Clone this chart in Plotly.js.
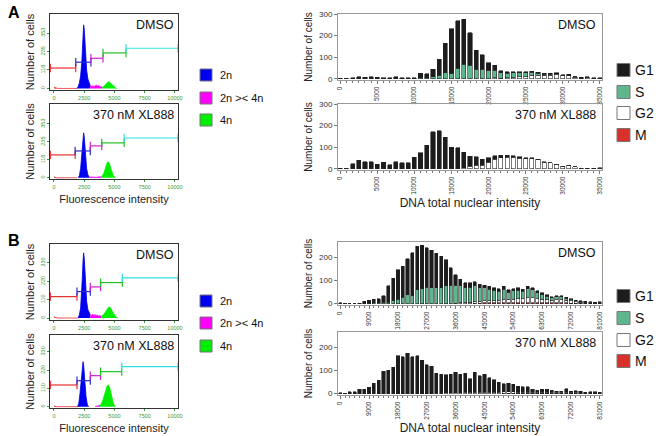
<!DOCTYPE html>
<html><head><meta charset="utf-8">
<script src="https://cdn.plot.ly/plotly-3.0.1.min.js"></script>
<style>html,body{margin:0;padding:0;background:#fff}#chart{width:662px;height:436px}</style>
</head><body><div id="chart"></div>
<script>
// ---------- Left: flow cytometry histograms ----------
const histTicksX = [0, 2500, 5000, 7500, 10000];
const histTicksYA = [0, 118, 235, 353];
const histTicksYB = [0, 110, 220, 330];

// Panel A DMSO
const aD_redX = [0, 100, 200, 300, 1900];
const aD_redY = [8, 5, 2, 0, 0];
const aD_blueX = [1900, 2000, 2100, 2200, 2300, 2350, 2400, 2450, 2500, 2550, 2600, 2700, 2800, 2900, 3000];
const aD_blueY = [0, 12, 35, 80, 170, 270, 355, 405, 380, 305, 215, 115, 60, 32, 18];
const aD_magX = [3000, 3100, 3200, 3300, 3400, 3500, 3600, 3700, 3800, 3900, 4000];
const aD_magY = [18, 14, 16, 12, 15, 22, 14, 18, 12, 10, 8];
const aD_grnX = [4000, 4100, 4200, 4300, 4400, 4500, 4600, 4700, 4800, 4900, 5000, 5100, 5200];
const aD_grnY = [8, 12, 18, 28, 36, 42, 40, 33, 24, 14, 7, 3, 0];
// Panel A XL888
const aX_redX = [0, 100, 200, 1900];
const aX_redY = [6, 3, 0, 0];
const aX_blueX = [2000, 2100, 2200, 2300, 2400, 2450, 2500, 2600, 2700, 2800, 2900];
const aX_blueY = [0, 15, 60, 160, 260, 295, 270, 150, 60, 20, 5];
const aX_magX = [2900, 3100, 3300, 3500, 3700, 3900];
const aX_magY = [5, 3, 4, 3, 6, 5];
const aX_grnX = [3900, 4000, 4100, 4200, 4300, 4400, 4500, 4600, 4700, 4800, 4900, 5000, 5100];
const aX_grnY = [5, 12, 25, 50, 80, 100, 105, 90, 60, 35, 15, 5, 0];
// Panel B DMSO
const bD_redX = [0, 100, 200, 300, 2000];
const bD_redY = [6, 4, 1, 0, 0];
const bD_blueX = [2000, 2100, 2200, 2300, 2350, 2400, 2450, 2500, 2550, 2600, 2700, 2800, 2900, 3000];
const bD_blueY = [0, 20, 60, 150, 250, 340, 390, 360, 280, 200, 100, 50, 30, 20];
const bD_magX = [3000, 3100, 3200, 3300, 3400, 3500, 3600, 3700, 3800, 3900];
const bD_magY = [20, 16, 22, 15, 20, 14, 18, 12, 14, 10];
const bD_grnX = [3900, 4000, 4100, 4200, 4300, 4400, 4500, 4600, 4700, 4800, 4900, 5000, 5100, 5200, 5300];
const bD_grnY = [10, 14, 20, 30, 42, 55, 63, 66, 58, 42, 28, 15, 7, 3, 0];
// Panel B XL888
const bX_redX = [0, 100, 200, 2000];
const bX_redY = [5, 2, 0, 0];
const bX_blueX = [1950, 2050, 2150, 2250, 2350, 2400, 2450, 2550, 2650, 2750, 2850];
const bX_blueY = [0, 20, 80, 180, 255, 270, 250, 150, 60, 15, 0];
const bX_magX = [3400, 3500, 3600, 3700, 3800];
const bX_magY = [0, 3, 5, 6, 8];
const bX_grnX = [3800, 3900, 4000, 4100, 4200, 4300, 4400, 4500, 4600, 4700, 4800, 4900, 5000, 5100];
const bX_grnY = [8, 15, 30, 55, 85, 110, 125, 130, 115, 85, 50, 22, 6, 0];

// gate markers: [x start, x end, level] red, blue, magenta, green, cyan
const gateStartA_D = [-300, 1800, 3050, 4050, 5950];
const gateEndA_D   = [1800, 3050, 4050, 5950, 10250];
const gateLevA_D   = [130, 167, 192, 226, 256];
const gateStartA_X = [-300, 1750, 3000, 3950, 5800];
const gateEndA_X   = [1750, 3000, 3950, 5800, 10250];
const gateLevA_X   = [150, 176, 209, 229, 261];
const gateStartB_D = [-300, 1900, 3000, 3850, 5650];
const gateEndB_D   = [1900, 3000, 3850, 5650, 10250];
const gateLevB_D   = [128, 158, 186, 212, 240];
const gateStartB_X = [-300, 1900, 3000, 3850, 5600];
const gateEndB_X   = [1900, 3000, 3850, 5600, 10250];
const gateLevB_X   = [130, 156, 186, 210, 240];

// ---------- Right: stacked bar charts ----------
const binsA = [0,833,1667,2500,3333,4167,5000,5833,6667,7500,8333,9167,10000,10833,11667,12500,13333,14167,15000,15833,16667,17500,18333,19167,20000,20833,21667,22500,23333,24167,25000,25833,26667,27500,28333,29167,30000,30833,31667,32500,33333,34167,35000];
const ticksA = [0,5000,10000,15000,20000,25000,30000,35000];
const aDMSO_G1 = [2,2,5,8,7,8,6,5,5,8,5,5,5,20,17,37,75,137,207,220,210,150,88,65,35,22,10,8,6,5,5,5,4,4,4,4,3,3,2,3,4,2,3];
const aDMSO_S  = [0,0,0,0,0,0,0,0,0,0,0,0,0,5,5,8,15,28,25,48,66,62,44,45,40,35,25,20,20,18,18,15,10,6,5,4,2,2,1,0,0,0,0];
const aDMSO_G2 = [0,0,0,0,0,0,0,0,0,0,0,0,0,0,0,0,0,0,0,0,0,0,0,0,0,5,3,5,7,9,10,15,16,15,16,20,13,15,7,3,4,2,2];
const aDMSO_M  = [1,0,0,0,0,0,0,0,0,0,0,0,0,0,0,0,0,0,0,0,0,0,0,0,0,0,0,0,0,0,0,0,0,0,0,0,0,0,0,0,0,0,0];
const aXL_G1 = [3,1,22,40,32,32,20,30,18,32,27,27,52,75,108,172,175,145,100,97,72,45,40,28,20,15,12,10,8,6,4,4,3,2,1,0,0,0,0,2,2,2,3];
const aXL_G2 = [0,0,0,0,0,0,0,0,0,0,0,0,0,0,0,0,0,0,0,0,5,12,15,15,30,45,50,52,52,49,46,46,42,30,27,20,12,15,8,1,1,1,1];

const binsB = [0,1500,3000,4500,6000,7500,9000,10500,12000,13500,15000,16500,18000,19500,21000,22500,24000,25500,27000,28500,30000,31500,33000,34500,36000,37500,39000,40500,42000,43500,45000,46500,48000,49500,51000,52500,54000,55500,57000,58500,60000,61500,63000,64500,66000,67500,69000,70500,72000,73500,75000,76500,78000,79500,81000];
const ticksB = [0,9000,18000,27000,36000,45000,54000,63000,72000,81000];
const bDMSO_G1 = [1,0,0,0,2,10,13,15,18,30,70,98,128,135,157,187,190,188,170,162,150,137,112,75,45,28,20,18,17,15,13,12,12,12,12,10,10,10,10,10,10,8,8,6,5,5,5,5,4,3,3,3,3,2,3];
const bDMSO_S  = [0,0,0,0,0,0,2,3,4,5,7,12,20,27,38,35,60,65,72,70,70,68,78,80,78,72,65,65,68,60,55,50,45,38,45,32,35,36,30,40,35,25,20,14,10,13,12,8,6,4,3,2,2,1,2];
const bDMSO_G2 = [0,0,0,0,0,0,0,0,0,0,0,0,0,0,0,0,0,0,0,0,0,0,0,0,2,5,5,7,8,8,10,10,10,12,15,15,17,19,20,22,22,19,17,15,12,14,15,12,10,6,5,4,2,2,2];
const bDMSO_M  = [2,0,0,0,0,0,0,0,0,0,0,0,0,0,0,0,0,0,0,0,0,0,0,0,0,0,0,0,2,2,3,3,3,3,3,3,3,3,3,3,3,3,3,3,3,3,3,3,2,2,1,1,1,1,1];
const bXL_G1 = [1,0,8,8,20,18,28,45,58,98,102,115,165,160,175,160,165,145,125,120,86,83,80,82,89,81,83,60,87,72,79,64,54,44,34,37,32,25,23,23,12,9,14,12,10,5,5,17,5,7,7,3,5,5,2];
const bXL_G2 = [0,0,0,0,0,0,0,0,0,0,0,0,0,0,0,0,0,0,0,0,2,2,3,3,4,4,5,5,6,6,6,6,6,6,6,6,6,5,5,5,4,4,4,4,3,3,3,3,3,3,2,2,2,2,2];
const bXL_M  = [2,0,0,0,0,0,0,0,0,0,0,0,0,0,0,0,0,0,0,0,0,0,0,0,0,0,0,0,0,0,0,0,0,0,2,2,2,2,2,2,2,2,2,2,2,2,2,2,2,2,1,1,1,1,1];

// ---------- styling ----------
const W = 662, H = 436;
const px = x => x / W, py = y => 1 - y / H;
const FONT = 'Liberation Sans, Arial, sans-serif';
const C = {blue:'#0000f0', mag:'#ff00ff', grn:'#00ee00', red:'#e83030', cyan:'#30e0e0',
           G1:'#1c1c1c', S:'#5eb68e', G2:'#ffffff', M:'#d8302a'};
const gateColors = [C.red, '#2a2ad0', '#d020d0', '#22c022', C.cyan];

const traces = [];
function hist(ax, X, Y, col) {
  traces.push({type:'scatter', x:X, y:Y, xaxis:'x'+ax, yaxis:'y'+ax, mode:'lines',
    line:{color:col, width:0.8}, fill:'tozeroy', fillcolor:col, hoverinfo:'skip', showlegend:false});
}
function gates(ax, S, E, L) {
  for (let i = 0; i < S.length; i++) {
    traces.push({type:'scatter', x:[S[i], E[i]], y:[L[i], L[i]], xaxis:'x'+ax, yaxis:'y'+ax,
      mode:'lines+markers', line:{color:gateColors[i], width:1.2},
      marker:{symbol:'line-ns-open', size:6, line:{color:gateColors[i], width:1.2}},
      hoverinfo:'skip', showlegend:false, cliponaxis:true});
  }
}
hist(1, aD_redX, aD_redY, C.red); hist(1, aD_blueX, aD_blueY, C.blue); hist(1, aD_magX, aD_magY, C.mag); hist(1, aD_grnX, aD_grnY, C.grn);
gates(1, gateStartA_D, gateEndA_D, gateLevA_D);
hist(2, aX_redX, aX_redY, C.red); hist(2, aX_blueX, aX_blueY, C.blue); hist(2, aX_magX, aX_magY, C.mag); hist(2, aX_grnX, aX_grnY, C.grn);
gates(2, gateStartA_X, gateEndA_X, gateLevA_X);
hist(3, bD_redX, bD_redY, C.red); hist(3, bD_blueX, bD_blueY, C.blue); hist(3, bD_magX, bD_magY, C.mag); hist(3, bD_grnX, bD_grnY, C.grn);
gates(3, gateStartB_D, gateEndB_D, gateLevB_D);
hist(4, bX_redX, bX_redY, C.red); hist(4, bX_blueX, bX_blueY, C.blue); hist(4, bX_magX, bX_magY, C.mag); hist(4, bX_grnX, bX_grnY, C.grn);
gates(4, gateStartB_X, gateEndB_X, gateLevB_X);

function bar(ax, X, Y, col, w, name) {
  traces.push({type:'bar', x:X, y:Y, xaxis:'x'+ax, yaxis:'y'+ax, width:w, name:name,
    marker:{color:col, line:{color:'#222', width:0.6}}, showlegend:false, hoverinfo:'x+y+name'});
}
bar(5, binsA, aDMSO_M, C.M, 560, 'M'); bar(5, binsA, aDMSO_G2, C.G2, 560, 'G2');
bar(5, binsA, aDMSO_S, C.S, 560, 'S'); bar(5, binsA, aDMSO_G1, C.G1, 560, 'G1');
bar(6, binsA, aXL_G2, C.G2, 560, 'G2'); bar(6, binsA, aXL_G1, C.G1, 560, 'G1');
bar(7, binsB, bDMSO_M, C.M, 1000, 'M'); bar(7, binsB, bDMSO_G2, C.G2, 1000, 'G2');
bar(7, binsB, bDMSO_S, C.S, 1000, 'S'); bar(7, binsB, bDMSO_G1, C.G1, 1000, 'G1');
bar(8, binsB, bXL_M, C.M, 1000, 'M'); bar(8, binsB, bXL_G2, C.G2, 1000, 'G2');
bar(8, binsB, bXL_G1, C.G1, 1000, 'G1');

const layout = {
  width: W, height: H, margin:{l:0, r:0, t:0, b:0}, paper_bgcolor:'#fff', plot_bgcolor:'#fff',
  barmode:'stack', bargap:0, font:{family:FONT, color:'#222'}, showlegend:false,
  shapes:[], annotations:[]
};

const greenTick = '#3a9a3a';
function leftAxes(n, ydom, ticksY, yr, showXTitle) {
  layout['xaxis'+n] = {domain:[px(50), px(178)], anchor:'y'+n, range:[-330, 10250],
    tickvals:histTicksX, ticktext:histTicksX.map(String), tickfont:{size:5.5, color:greenTick},
    ticks:'outside', ticklen:2, tickcolor:greenTick, showline:true, mirror:true, linecolor:'#333', linewidth:1,
    showgrid:false, zeroline:false,
    title: showXTitle ? {text:'Fluorescence intensity', font:{size:11, color:'#222'}, standoff:6} : {text:''}};
  layout['yaxis'+n] = {domain:ydom, anchor:'x'+n, range:yr,
    tickvals:ticksY, ticktext:ticksY.map(String), tickangle:-90, tickfont:{size:5.5, color:greenTick},
    ticks:'outside', ticklen:2, tickcolor:greenTick, showline:true, mirror:true, linecolor:'#333', linewidth:1,
    showgrid:false, zeroline:false,
    title:{text:'Number of cells', font:{size:11, color:'#222'}, standoff:2}};
}
leftAxes(1, [py(90), py(14)], histTicksYA, [-10, 474], false);
leftAxes(2, [py(179), py(104)], histTicksYA, [-8, 484], true);
leftAxes(3, [py(320), py(244)], histTicksYB, [-12, 443], false);
leftAxes(4, [py(408), py(335)], histTicksYB, [-8, 430], true);

function rightAxes(n, ydom, bins, ticks, xr, yticks, yr, showXTitle) {
  layout['xaxis'+n] = {domain:[px(338), px(602)], anchor:'y'+n, range:xr,
    tickvals:ticks, ticktext:ticks.map(String), tickangle:-90, tickfont:{size:6.5, color:'#333'},
    ticks:'outside', ticklen:3, tickcolor:'#777',
    minor:{tickvals:bins, ticks:'outside', ticklen:2, tickcolor:'#777'},
    showline:true, mirror:true, linecolor:'#999', linewidth:1, showgrid:false, zeroline:false,
    title: showXTitle ? {text:'DNA total nuclear intensity', font:{size:12, color:'#222'}, standoff:4} : {text:''}};
  layout['yaxis'+n] = {domain:ydom, anchor:'x'+n, range:yr, tickvals:yticks, ticktext:yticks.map(String),
    tickfont:{size:8, color:'#333'}, ticks:'outside', ticklen:3, tickcolor:'#777',
    showline:true, mirror:true, linecolor:'#999', linewidth:1, showgrid:false, zeroline:false,
    title:{text:'Number of cells', font:{size:10, color:'#222'}, standoff:4}};
}
rightAxes(5, [py(80), py(14)], binsA, ticksA, [-300, 35300], [0,100,200,300], [-6, 300], false);
rightAxes(6, [py(170), py(104)], binsA, ticksA, [-300, 35300], [0,100,200,300], [-6, 300], true);
rightAxes(7, [py(305), py(242)], binsB, ticksB, [-700, 81700], [0,100,200], [-6, 268], false);
rightAxes(8, [py(395), py(332)], binsB, ticksB, [-700, 81700], [0,100,200], [-6, 268], true);

// in-panel labels
function label(n, txt, size) {
  layout.annotations.push({xref:'x'+n+' domain', yref:'y'+n+' domain', x:0.985, y:0.97,
    xanchor:'right', yanchor:'top', text:txt, showarrow:false, font:{size:size, color:'#111'}});
}
label(1, 'DMSO', 12.5); label(2, '370 nM XL888', 12.5); label(3, 'DMSO', 12.5); label(4, '370 nM XL888', 12.5);
label(5, 'DMSO', 12.5); label(6, '370 nM XL888', 12.5); label(7, 'DMSO', 12.5); label(8, '370 nM XL888', 12.5);

// panel letters
layout.annotations.push({xref:'paper', yref:'paper', x:px(6), y:py(12), xanchor:'left', yanchor:'middle',
  text:'<b>A</b>', showarrow:false, font:{size:16, color:'#000'}});
layout.annotations.push({xref:'paper', yref:'paper', x:px(6), y:py(240), xanchor:'left', yanchor:'middle',
  text:'<b>B</b>', showarrow:false, font:{size:16, color:'#000'}});

// legends
function legendItem(x, y, col, txt, size, sq, gap, border) {
  layout.shapes.push({type:'rect', xref:'paper', yref:'paper', x0:px(x), x1:px(x+sq),
    y0:py(y+sq/2), y1:py(y-sq/2), fillcolor:col, line:{color:border, width:1}});
  layout.annotations.push({xref:'paper', yref:'paper', x:px(x+sq+gap), y:py(y), xanchor:'left', yanchor:'middle',
    text:txt, showarrow:false, font:{size:size, color:'#111'}});
}
const leftLegend = [['2n', C.blue], ['2n &gt;&lt; 4n', C.mag], ['4n', C.grn]];
const leftLegYA = [75, 98, 120], leftLegYB = [301, 323, 346];
leftLegend.forEach((d, i) => { legendItem(200, leftLegYA[i], d[1], d[0], 11, 12, 6, '#777');
                               legendItem(200, leftLegYB[i], d[1], d[0], 11, 12, 6, '#777'); });
const rightLegend = [['G1', C.G1], ['S', C.S], ['G2', C.G2], ['M', C.M]];
const rightLegYA = [70, 92, 113, 135], rightLegYB = [296, 318, 340, 361];
rightLegend.forEach((d, i) => { legendItem(617, rightLegYA[i], d[1], d[0], 14, 13, 3, '#777');
                                legendItem(617, rightLegYB[i], d[1], d[0], 14, 13, 3, '#777'); });

Plotly.newPlot('chart', traces, layout, {staticPlot:true, displayModeBar:false});
</script></body></html>
